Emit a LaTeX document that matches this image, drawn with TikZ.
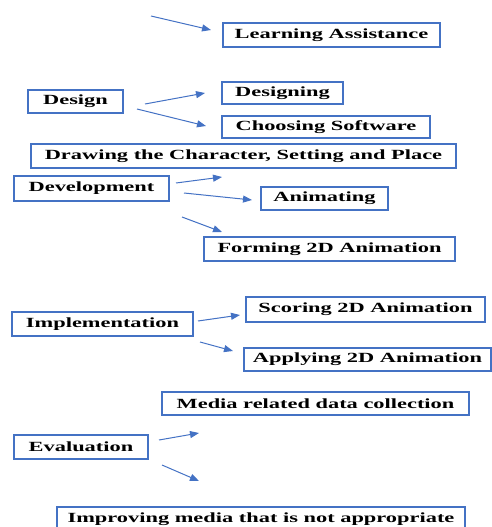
\documentclass[tikz,border=0pt]{standalone}
\usepackage{fontspec}
\setmainfont{Liberation Serif}[FakeStretch=1.6]
\usetikzlibrary{arrows.meta}
\definecolor{boxblue}{HTML}{4472C4}
\begin{document}
\begin{tikzpicture}[x=1pt,y=-1pt,
  box/.style={draw=boxblue,line width=1.3pt,rectangle,inner sep=0pt,
    font=\fontsize{14}{16}\selectfont\bfseries},
  arr/.style={draw=boxblue,line width=1pt,-{Triangle[length=9pt,width=7pt]}}]
\useasboundingbox (0,0) rectangle (492,527);
\node[box,minimum width=217pt,minimum height=24pt] (la) at (331.5,35) {Learning Assistance};
\node[box,minimum width=95pt,minimum height=23pt] (design) at (75.5,101.5) {Design};
\node[box,minimum width=121pt,minimum height=22pt] (designing) at (282.5,93) {Designing};
\node[box,minimum width=208pt,minimum height=22pt] (choosing) at (326,127) {Choosing Software};
\node[box,minimum width=425pt,minimum height=24pt] (drawing) at (243.5,156) {Drawing the Character, Setting and Place};
\node[box,minimum width=155pt,minimum height=25pt] (devel) at (91.5,188.5) {Development};
\node[box,minimum width=127pt,minimum height=23pt] (anim) at (324.5,198.5) {Animating};
\node[box,minimum width=251pt,minimum height=24pt] (forming) at (329.5,249) {Forming 2D Animation};
\node[box,minimum width=239pt,minimum height=25pt] (scoring) at (365.5,309.5) {Scoring 2D Animation};
\node[box,minimum width=181pt,minimum height=24pt] (impl) at (102.5,324) {Implementation};
\node[box,minimum width=247pt,minimum height=23pt] (applying) at (367.5,359.5) {Applying 2D Animation};
\node[box,minimum width=307pt,minimum height=23pt] (media) at (315.5,403.5) {Media related data collection};
\node[box,minimum width=134pt,minimum height=24pt] (eval) at (81,447) {Evaluation};
\node[box,minimum width=408pt,minimum height=24pt] (improving) at (261,519) {Improving media that is not appropriate};
% arrow end points
\coordinate (a1s) at (151,16); \coordinate (a1e) at (211,30);
\coordinate (d1s) at (145,104); \coordinate (d1e) at (205,93);
\coordinate (d2s) at (137,109); \coordinate (d2e) at (206,126);
\coordinate (v1s) at (176,183); \coordinate (v1e) at (222,177);
\coordinate (v2s) at (184,193); \coordinate (v2e) at (252,200);
\coordinate (v3s) at (182,217); \coordinate (v3e) at (222,232);
\coordinate (i1s) at (198,321); \coordinate (i1e) at (240,315);
\coordinate (i2s) at (200,342); \coordinate (i2e) at (233,351);
\coordinate (e1s) at (159,440); \coordinate (e1e) at (199,433);
\coordinate (e2s) at (162,465); \coordinate (e2e) at (199,481);
\draw[arr] (a1s) -- (a1e);
\draw[arr] (d1s) -- (d1e);
\draw[arr] (d2s) -- (d2e);
\draw[arr] (v1s) -- (v1e);
\draw[arr] (v2s) -- (v2e);
\draw[arr] (v3s) -- (v3e);
\draw[arr] (i1s) -- (i1e);
\draw[arr] (i2s) -- (i2e);
\draw[arr] (e1s) -- (e1e);
\draw[arr] (e2s) -- (e2e);
\end{tikzpicture}
\end{document}
